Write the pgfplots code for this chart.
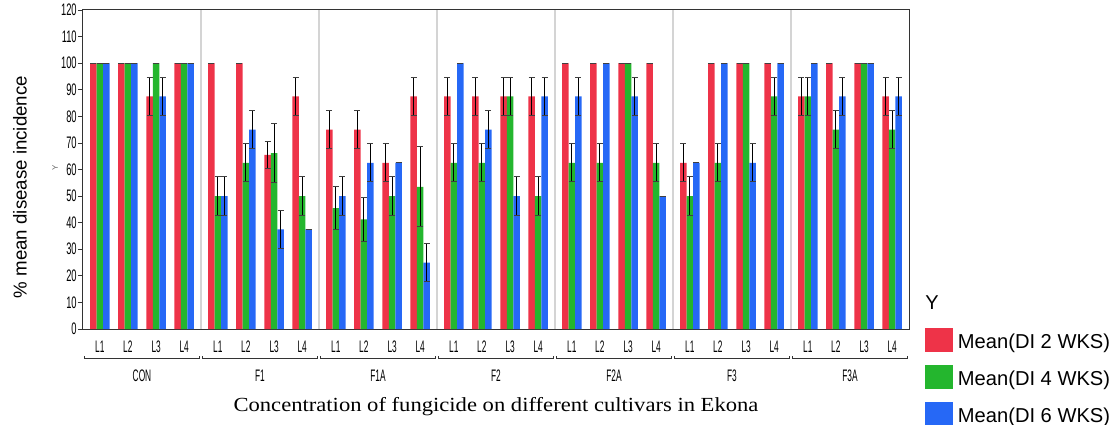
\documentclass[border=0pt]{standalone}
\usepackage{pgfplots}
\pgfplotsset{compat=1.18}
\usepackage{pgfplotstable}
\usepackage{graphicx}
\usepackage{fontspec}
\setmainfont{Liberation Sans}
\newfontfamily\timesfont{Liberation Serif}

\definecolor{cred}{RGB}{238,51,72}
\definecolor{cgreen}{RGB}{36,182,46}
\definecolor{cblue}{RGB}{38,104,246}
\definecolor{sepgray}{RGB}{212,212,212}

\newcommand\tl[1]{\scalebox{0.5}[1]{#1}}

\pgfplotstableread{
x y e
0.07 100 0
1.02 100 0
1.98 87.5 7.2
2.93 100 0
4.07 100 0
5.02 100 0
5.98 65.5 5
6.93 87.5 7.2
8.07 75 7.2
9.02 75 7.2
9.98 62.5 7.2
10.93 87.5 7.2
12.07 87.5 7.2
13.02 87.5 7.2
13.98 87.5 7.2
14.93 87.5 7.2
16.07 100 0
17.02 100 0
17.98 100 0
18.93 100 0
20.07 62.5 7.2
21.02 100 0
21.98 100 0
22.93 100 0
24.07 87.5 7.2
25.02 100 0
25.98 100 0
26.93 87.5 7.2
}\tablered

\pgfplotstableread{
x y e
0.07 100 0
1.02 100 0
1.98 100 0
2.93 100 0
4.07 50 7.2
5.02 62.5 7.2
5.98 66.2 11
6.93 50 7.2
8.07 45.5 8
9.02 41.2 8.4
9.98 50 7.2
10.93 53.5 15
12.07 62.5 7.2
13.02 62.5 7.2
13.98 87.5 7.2
14.93 50 7.2
16.07 62.5 7.2
17.02 62.5 7.2
17.98 100 0
18.93 62.5 7.2
20.07 50 7.2
21.02 62.5 7.2
21.98 100 0
22.93 87.5 7.2
24.07 87.5 7.2
25.02 75 7.2
25.98 100 0
26.93 75 7.2
}\tablegreen

\pgfplotstableread{
x y e
0.07 100 0
1.02 100 0
1.98 87.5 7.2
2.93 100 0
4.07 50 7.2
5.02 75 7.2
5.98 37.5 7.2
6.93 37.5 0
8.07 50 7.2
9.02 62.5 7.2
9.98 62.5 0
10.93 25 7.2
12.07 100 0
13.02 75 7.2
13.98 50 7.2
14.93 87.5 7.2
16.07 87.5 7.2
17.02 100 0
17.98 87.5 7.2
18.93 50 0
20.07 62.5 0
21.02 100 0
21.98 62.5 7.2
22.93 100 0
24.07 100 0
25.02 87.5 7.2
25.98 100 0
26.93 87.5 7.2
}\tableblue

\begin{document}
\begin{tikzpicture}
\useasboundingbox (-62.25pt,-72pt) rectangle (771pt,246.75pt);
\begin{axis}[
  scale only axis,
  width=619.5pt, height=239.25pt,
  xmin=-0.5, xmax=27.5, ymin=0, ymax=120,
  ybar=0pt, bar width=0.22,
  clip=false,
  axis line style={black!80, line width=0.75pt},
  ytick={0,10,...,120},
  yticklabel={\scalebox{0.56}[1]{\pgfmathprintnumber[assume math mode=true]{\tick}}},
  yticklabel style={font=\fontsize{12.5}{12.5}\selectfont, inner sep=0.8pt},
  ytick pos=left,
  tick align=outside,
  major tick length=3.75pt,
  ytick style={black!80, line width=0.6pt},
  xtick={0.07,1.02,1.98,2.93,4.07,5.02,5.98,6.93,8.07,9.02,9.98,10.93,12.07,13.02,13.98,14.93,16.07,17.02,17.98,18.93,20.07,21.02,21.98,22.93,24.07,25.02,25.98,26.93},
  xticklabels={\tl{L1},\tl{L2},\tl{L3},\tl{L4},\tl{L1},\tl{L2},\tl{L3},\tl{L4},\tl{L1},\tl{L2},\tl{L3},\tl{L4},\tl{L1},\tl{L2},\tl{L3},\tl{L4},\tl{L1},\tl{L2},\tl{L3},\tl{L4},\tl{L1},\tl{L2},\tl{L3},\tl{L4},\tl{L1},\tl{L2},\tl{L3},\tl{L4}},
  xticklabel style={font=\fontsize{12.5}{12.5}\selectfont, anchor=center, yshift=-9.75pt},
  xtick style={draw=none},
  extra x ticks={3.5,7.5,11.5,15.5,19.5,23.5},
  extra x tick labels={},
  extra x tick style={grid=major, major grid style={sepgray, line width=1.3pt}, major tick length=0pt},
  xlabel={\timesfont\scalebox{1.13}[1]{Concentration of fungicide on different cultivars in Ekona}},
  xlabel style={font=\fontsize{15}{15}\selectfont, at={(axis description cs:0.5,0)}, anchor=center, yshift=-58pt},
  ylabel={\% mean disease incidence},
  ylabel style={font=\fontsize{14}{14}\selectfont, at={(axis description cs:0,0.445)}, anchor=center, yshift=47.25pt},
  legend style={at={(axis description cs:1.0194,0.003)}, anchor=north west, draw=none, fill=none, inner sep=0pt, row sep=9.75pt, column sep=3.5pt, font=\fontsize{15.1}{15.1}\selectfont, nodes={inner sep=0pt}},
  legend cell align=left,
  legend image code/.code={\fill[#1] (0pt,-7.55pt) rectangle (21pt,10.45pt);},
  error bars/error bar style={black, line width=0.9pt},
  error bars/error mark options={rotate=90, black!75, line width=0.75pt, mark size=2.25pt},
]
\addplot[fill=cred, draw=none, bar shift=-0.22, error bars/.cd, y dir=both, y explicit] table[x=x, y=y, y error=e] {\tablered};
\addlegendentry{Mean(DI 2 WKS)}
\addplot[fill=cgreen, draw=none, bar shift=0, error bars/.cd, y dir=both, y explicit] table[x=x, y=y, y error=e] {\tablegreen};
\addlegendentry{Mean(DI 4 WKS)}
\addplot[fill=cblue, draw=none, bar shift=0.22, error bars/.cd, y dir=both, y explicit] table[x=x, y=y, y error=e] {\tableblue};
\addlegendentry{Mean(DI 6 WKS)}

% group brackets and names
\draw[black!80, line width=0.75pt] ([yshift=-20.25pt]axis cs:-0.44,0) -- ([yshift=-21.75pt]axis cs:-0.44,0) -- ([yshift=-21.75pt]axis cs:3.44,0) -- ([yshift=-20.25pt]axis cs:3.44,0);
\draw[black!80, line width=0.75pt] ([yshift=-20.25pt]axis cs:3.56,0) -- ([yshift=-21.75pt]axis cs:3.56,0) -- ([yshift=-21.75pt]axis cs:7.44,0) -- ([yshift=-20.25pt]axis cs:7.44,0);
\draw[black!80, line width=0.75pt] ([yshift=-20.25pt]axis cs:7.56,0) -- ([yshift=-21.75pt]axis cs:7.56,0) -- ([yshift=-21.75pt]axis cs:11.44,0) -- ([yshift=-20.25pt]axis cs:11.44,0);
\draw[black!80, line width=0.75pt] ([yshift=-20.25pt]axis cs:11.56,0) -- ([yshift=-21.75pt]axis cs:11.56,0) -- ([yshift=-21.75pt]axis cs:15.44,0) -- ([yshift=-20.25pt]axis cs:15.44,0);
\draw[black!80, line width=0.75pt] ([yshift=-20.25pt]axis cs:15.56,0) -- ([yshift=-21.75pt]axis cs:15.56,0) -- ([yshift=-21.75pt]axis cs:19.44,0) -- ([yshift=-20.25pt]axis cs:19.44,0);
\draw[black!80, line width=0.75pt] ([yshift=-20.25pt]axis cs:19.56,0) -- ([yshift=-21.75pt]axis cs:19.56,0) -- ([yshift=-21.75pt]axis cs:23.44,0) -- ([yshift=-20.25pt]axis cs:23.44,0);
\draw[black!80, line width=0.75pt] ([yshift=-20.25pt]axis cs:23.56,0) -- ([yshift=-21.75pt]axis cs:23.56,0) -- ([yshift=-21.75pt]axis cs:27.44,0) -- ([yshift=-20.25pt]axis cs:27.44,0);
\begin{scope}[every node/.style={font=\fontsize{12.5}{12.5}\selectfont, anchor=center, inner sep=0pt}]
\node at ([yshift=-35.25pt]axis cs:1.5,0) {\tl{CON}};
\node at ([yshift=-35.25pt]axis cs:5.5,0) {\tl{F1}};
\node at ([yshift=-35.25pt]axis cs:9.5,0) {\tl{F1A}};
\node at ([yshift=-35.25pt]axis cs:13.5,0) {\tl{F2}};
\node at ([yshift=-35.25pt]axis cs:17.5,0) {\tl{F2A}};
\node at ([yshift=-35.25pt]axis cs:21.5,0) {\tl{F3}};
\node at ([yshift=-35.25pt]axis cs:25.5,0) {\tl{F3A}};
\end{scope}
\node[font=\fontsize{6}{6}\selectfont, text=black!60, rotate=90, anchor=center] at ([xshift=-21pt]axis description cs:0,0.505) {Y};
\node[font=\fontsize{15}{15}\selectfont, anchor=west, inner sep=0pt] at (axis description cs:1.0194,0.083) {Y};
\end{axis}
\end{tikzpicture}
\end{document}
